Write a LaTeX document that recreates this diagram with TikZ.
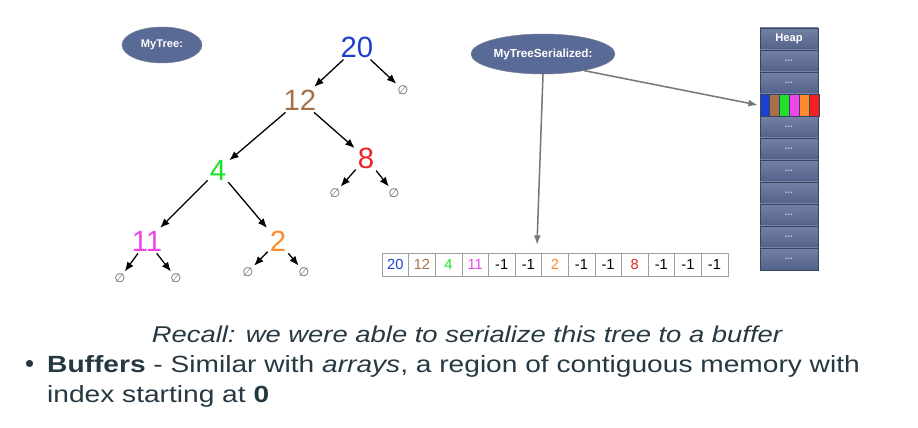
\documentclass[tikz,border=0pt]{standalone}
\usepackage{fontspec}
\setmainfont{Liberation Sans}
\newfontfamily\widefont[FakeStretch=1.2]{Liberation Sans}
\newfontfamily\symfont{DejaVu Sans}
\usetikzlibrary{shapes.geometric, arrows.meta, positioning, calc}

\definecolor{slate}{HTML}{5A6A96}
\definecolor{slatedark}{HTML}{39445F}
\definecolor{nblue}{HTML}{1B3FD0}
\definecolor{nbrown}{HTML}{A57248}
\definecolor{ngreen}{HTML}{1EE02A}
\definecolor{nmagenta}{HTML}{EE45E8}
\definecolor{norange}{HTML}{FF8A2A}
\definecolor{nred}{HTML}{EE2222}
\definecolor{txt}{HTML}{263842}
\definecolor{ptrgray}{HTML}{777777}

\begin{document}
\begin{tikzpicture}[
    x=0.03cm, y=-0.03cm,
    tag/.style={draw=slatedark!70, ellipse, fill=slate, text=white, inner sep=0pt, font=\bfseries\fontsize{9.5}{10}\selectfont},
    key/.style={inner sep=1pt, font=\fontsize{25}{26}\selectfont},
    nil/.style={inner sep=0pt, text=gray!80!black, font=\symfont\fontsize{10.5}{10}\selectfont},
    link/.style={-{Latex[length=8pt,width=6.5pt]}, line width=1.1pt, shorten >=2pt, shorten <=1pt},
    ptr/.style={-{Latex[length=8pt,width=6pt]}, draw=ptrgray, line width=1.3pt},
    cell/.style={draw=gray!75, minimum width=0.8cm, minimum height=0.69cm, inner sep=0pt, font=\fontsize{12.5}{13}\selectfont},
    heaprow/.style={draw=slatedark, top color=slate!85!white, bottom color=slate!92!black, minimum width=1.74cm, minimum height=0.66cm, inner sep=0pt, text=white},
]
\useasboundingbox (0,0) rectangle (918,428);

% Tree
\node[tag, minimum width=2.4cm, minimum height=1.08cm] (mytree) at (162, 45) {MyTree:};
\node[key, text=nblue] (n20) at (357, 47) {20};
\node[key, text=nbrown] (n12) at (300, 100) {12};
\node[nil] (z20) at (403, 90) {∅};
\node[key, text=ngreen] (n4) at (218, 170) {4};
\node[key, text=nred] (n8) at (366, 158) {8};
\node[nil] (z8a) at (335, 193) {∅};
\node[nil] (z8b) at (394, 193) {∅};
\node[key, text=nmagenta] (n11) at (147, 241) {11};
\node[key, text=norange] (n2) at (278, 241) {2};
\node[nil] (z11a) at (120, 278) {∅};
\node[nil] (z11b) at (176, 278) {∅};
\node[nil] (z2a) at (248, 272) {∅};
\node[nil] (z2b) at (304, 272) {∅};

\draw[link] (n20) -- (n12);
\draw[link] (n20) -- (z20);
\draw[link] (n12) -- (n4);
\draw[link] (n12) -- (n8);
\draw[link] (n8) -- (z8a);
\draw[link] (n8) -- (z8b);
\draw[link] (n4) -- (n11);
\draw[link] (n4) -- (n2);
\draw[link] (n11) -- (z11a);
\draw[link] (n11) -- (z11b);
\draw[link] (n2) -- (z2a);
\draw[link] (n2) -- (z2b);

% Buffer
\foreach \v/\c [count=\i] in {20/nblue, 12/nbrown, 4/ngreen, 11/nmagenta, -1/black, -1/black, 2/norange, -1/black, -1/black, 8/nred, -1/black, -1/black, -1/black}
  \node[cell, text=\c] (c\i) at ({395.3+(\i-1)*26.6}, 264.5) {\v};

% Heap
\node[heaprow, font=\bfseries\fontsize{9.5}{10}\selectfont] (h0) at (789, 39) {Heap};
\foreach \i in {1,...,10}
  \node[heaprow, font=\bfseries\fontsize{8}{8}\selectfont, text=white!70!slate] (h\i) at (789, {39+22*\i}) {...};
\foreach \c [count=\k] in {nblue, nbrown, ngreen, nmagenta, norange, nred}
  \filldraw[fill=\c, draw=slatedark] ($(h3.south west)+({(\k-1)*9.86},0)$) rectangle ++(9.86,-22);

% Pointers
\node[tag, minimum width=4.32cm, minimum height=1.2cm, font=\bfseries\fontsize{10}{10}\selectfont] (ser) at (543, 54) {MyTreeSerialized:};
\coordinate (bufin) at ($(c6.north)+(8.7,-8)$);
\draw[ptr] (ser.south) -- (bufin);
\draw[ptr] (ser.-22) -- ($(h3.west)+(-2,0)$);

% Text
\node[text=txt, anchor=base, inner sep=0pt, font=\widefont\itshape\fontsize{19.5}{22}\selectfont] (recall) at (467, 343) {Recall: we were able to serialize this tree to a buffer};
\node[text=txt, anchor=base west, inner sep=0pt, font=\fontsize{22}{22}\selectfont] (dot) at (25, 372) {\textbullet};
\node[text=txt, anchor=base west, inner sep=0pt, font=\widefont\fontsize{20}{22}\selectfont] (buf1) at (47, 372) {\textbf{Buffers} - Similar with \textit{arrays}, a region of contiguous memory with};
\node[text=txt, anchor=base west, inner sep=0pt, font=\widefont\fontsize{20}{22}\selectfont] (buf2) at (47, 402) {index starting at \textbf{0}};
\end{tikzpicture}
\end{document}
